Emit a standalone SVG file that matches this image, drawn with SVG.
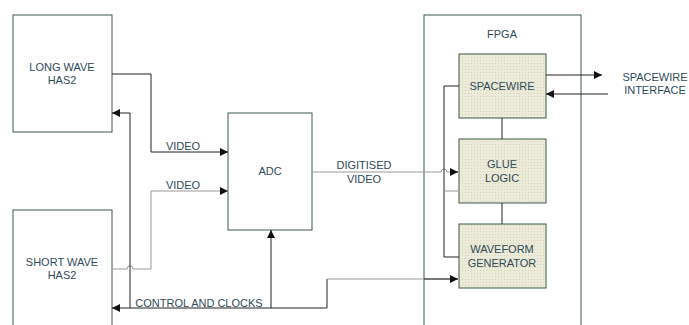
<svg xmlns="http://www.w3.org/2000/svg" width="689" height="325" viewBox="0 0 689 325">
<style>
.box{fill:#fff;stroke:#3a5a48;stroke-width:1}
.fbox{fill:url(#dots);stroke:#3a5a48;stroke-width:1}
.t{font-family:"Liberation Sans",Arial,sans-serif;font-size:11px;fill:#2f4a58;text-anchor:middle}
.w{fill:none;stroke:#222;stroke-width:1}
.g{fill:none;stroke:#999;stroke-width:1}
</style>
<defs>
<pattern id="dots" width="3" height="3" patternUnits="userSpaceOnUse">
<rect width="3" height="3" fill="#ecebd9"/>
<rect width="1" height="1" fill="#d4d3b8"/>
</pattern>
<marker id="ar" viewBox="0 0 10 10" refX="10" refY="5" markerWidth="8" markerHeight="8" markerUnits="userSpaceOnUse" orient="auto">
<path d="M0,0 L10,5 L0,10 z" fill="#111"/>
</marker>
</defs>
<g id="longwave"><rect class="box" x="13" y="15" width="99" height="117"/>
<text class="t" x="62" y="71">LONG WAVE</text><text class="t" x="62" y="84">HAS2</text></g>
<g id="shortwave"><rect class="box" x="13" y="210" width="99" height="120"/>
<text class="t" x="62" y="266">SHORT WAVE</text><text class="t" x="62" y="279">HAS2</text></g>
<g id="adc"><rect class="box" x="228" y="113" width="84" height="117"/>
<text class="t" x="270" y="175">ADC</text></g>
<g id="fpga"><rect class="box" x="424" y="15" width="157" height="320"/>
<text class="t" x="502" y="38">FPGA</text></g>
<g id="spacewire"><rect class="fbox" x="459" y="54" width="87" height="64"/>
<text class="t" x="502" y="90">SPACEWIRE</text></g>
<g id="glue"><rect class="fbox" x="459" y="139" width="87" height="64"/>
<text class="t" x="502" y="168">GLUE</text><text class="t" x="502" y="182">LOGIC</text></g>
<g id="waveform"><rect class="fbox" x="459" y="224" width="87" height="64"/>
<text class="t" x="502" y="253">WAVEFORM</text><text class="t" x="502" y="267">GENERATOR</text></g>
<g id="spwif"><text class="t" x="655" y="81">SPACEWIRE</text><text class="t" x="655" y="94">INTERFACE</text></g>
<g id="connectors">
<path class="w" d="M112,74 H151 V152 H228" marker-end="url(#ar)"/>
<text class="t" x="183" y="150">VIDEO</text>
<path class="g" d="M112,269 H127 A3,3 0 0 1 133,269 H151 V191 H228" marker-end="url(#ar)"/>
<text class="t" x="183" y="189">VIDEO</text>
<path class="w" d="M130,308 V113 H112" marker-end="url(#ar)"/>
<path class="w" d="M327,279 V308 H112" marker-end="url(#ar)"/>
<path class="g" d="M327,279 H458"/>
<path class="w" d="M424,279 H458" marker-end="url(#ar)"/>
<text class="t" x="199" y="307">CONTROL AND CLOCKS</text>
<path class="w" d="M271,308 V230" marker-end="url(#ar)"/>
<path class="g" d="M312,172 H441 A3,3 0 0 1 447,172 H458"/>
<path class="w" d="M450,172 H458" marker-end="url(#ar)"/>
<text class="t" x="364" y="169">DIGITISED</text><text class="t" x="364" y="183">VIDEO</text>
<path class="w" d="M459,86 H444 V257 H459"/>
<path class="g" d="M444,191 H459"/>
<path class="w" d="M502,118 V139 M502,203 V224"/>
<path class="w" d="M546,75 H602" marker-end="url(#ar)"/>
<path class="w" d="M608,94 H546" marker-end="url(#ar)"/>
</g>
</svg>
